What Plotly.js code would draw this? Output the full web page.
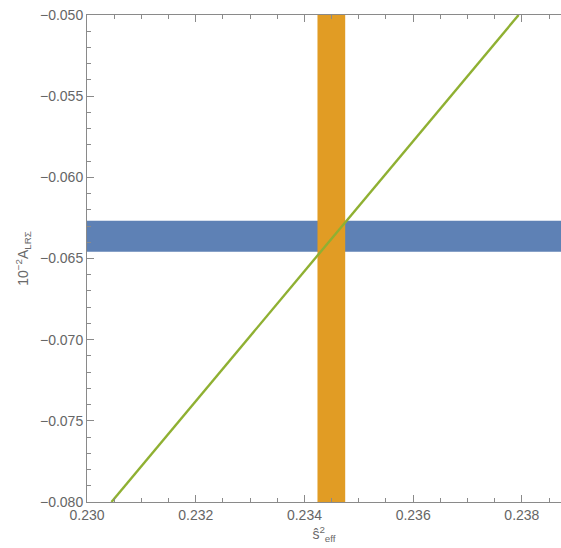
<!DOCTYPE html>
<html>
<head>
<meta charset="utf-8">
<script src="https://cdn.plot.ly/plotly-3.0.1.min.js"></script>
<style>html,body{margin:0;padding:0;background:#fff;}#chart{width:561px;height:548px;}</style>
</head>
<body>
<div id="chart"></div>
<script>
// Data
const xRange = [0.230, 0.23872];
const yRange = [-0.080, -0.050];
const blueBandY = [-0.06267, -0.06458];     // horizontal band (A_LR)
const orangeBandX = [0.23424, 0.23475];     // vertical band (s^2_eff)
const lineX = [0.23045, 0.23794];           // green line
const lineY = [-0.080, -0.050];
const xTicks = [0.230, 0.232, 0.234, 0.236, 0.238];
const xTickLabels = ["0.230", "0.232", "0.234", "0.236", "0.238"];
const yTicks = [-0.080, -0.075, -0.070, -0.065, -0.060, -0.055, -0.050];
const yTickLabels = ["\u22120.080", "\u22120.075", "\u22120.070", "\u22120.065", "\u22120.060", "\u22120.055", "\u22120.050"];

const BLUE = '#5E81B5', ORANGE = '#E19C24', GREEN = '#8FB032';
const AX = '#8a8a8a', TXT = '#666666';

const traces = [{
  x: lineX, y: lineY, type: 'scatter', mode: 'lines',
  line: {color: GREEN, width: 2.4}, hoverinfo: 'skip', showlegend: false
}];

const shapes = [
  {type: 'rect', xref: 'x domain', yref: 'y', x0: 0, x1: 1, y0: blueBandY[0], y1: blueBandY[1],
   fillcolor: BLUE, line: {width: 0}, layer: 'below'},
  {type: 'rect', xref: 'x', yref: 'y domain', x0: orangeBandX[0], x1: orangeBandX[1], y0: 0, y1: 1,
   fillcolor: ORANGE, line: {width: 0}, layer: 'below'}
];

const font = {family: 'Liberation Sans, Arial, sans-serif', size: 14, color: TXT};
const titleFont = {family: 'Liberation Sans, Arial, sans-serif', size: 14, color: '#6a6a6a'};

const layout = {
  width: 561, height: 548,
  margin: {l: 87, r: 0, t: 15, b: 46},
  paper_bgcolor: '#fff', plot_bgcolor: '#fff',
  font: font,
  showlegend: false,
  shapes: shapes,
  xaxis: {
    range: xRange, tickvals: xTicks, ticktext: xTickLabels,
    showgrid: false, zeroline: false,
    showline: true, linecolor: AX, linewidth: 1, mirror: 'ticks',
    ticks: 'inside', ticklen: 7, tickcolor: AX, tickwidth: 1,
    minor: {dtick: 0.0005, tick0: 0.230, ticks: 'inside', ticklen: 4, tickcolor: AX, showgrid: false},
    tickfont: font,
    title: {text: '\u015D<sup>2</sup><sub>eff</sub>', font: titleFont, standoff: 7}
  },
  yaxis: {
    range: yRange, tickvals: yTicks, ticktext: yTickLabels,
    showgrid: false, zeroline: false,
    showline: true, linecolor: AX, linewidth: 1, mirror: false,
    ticks: 'inside', ticklen: 7, tickcolor: AX, tickwidth: 1,
    minor: {dtick: 0.001, tick0: -0.080, ticks: 'inside', ticklen: 4, tickcolor: AX, showgrid: false},
    tickfont: font,
    title: {text: '10<sup>\u22122</sup>A<sub>LR\u03A3</sub>', font: titleFont, standoff: 8}
  }
};

Plotly.newPlot('chart', traces, layout, {displayModeBar: false, staticPlot: true});
</script>
</body>
</html>
